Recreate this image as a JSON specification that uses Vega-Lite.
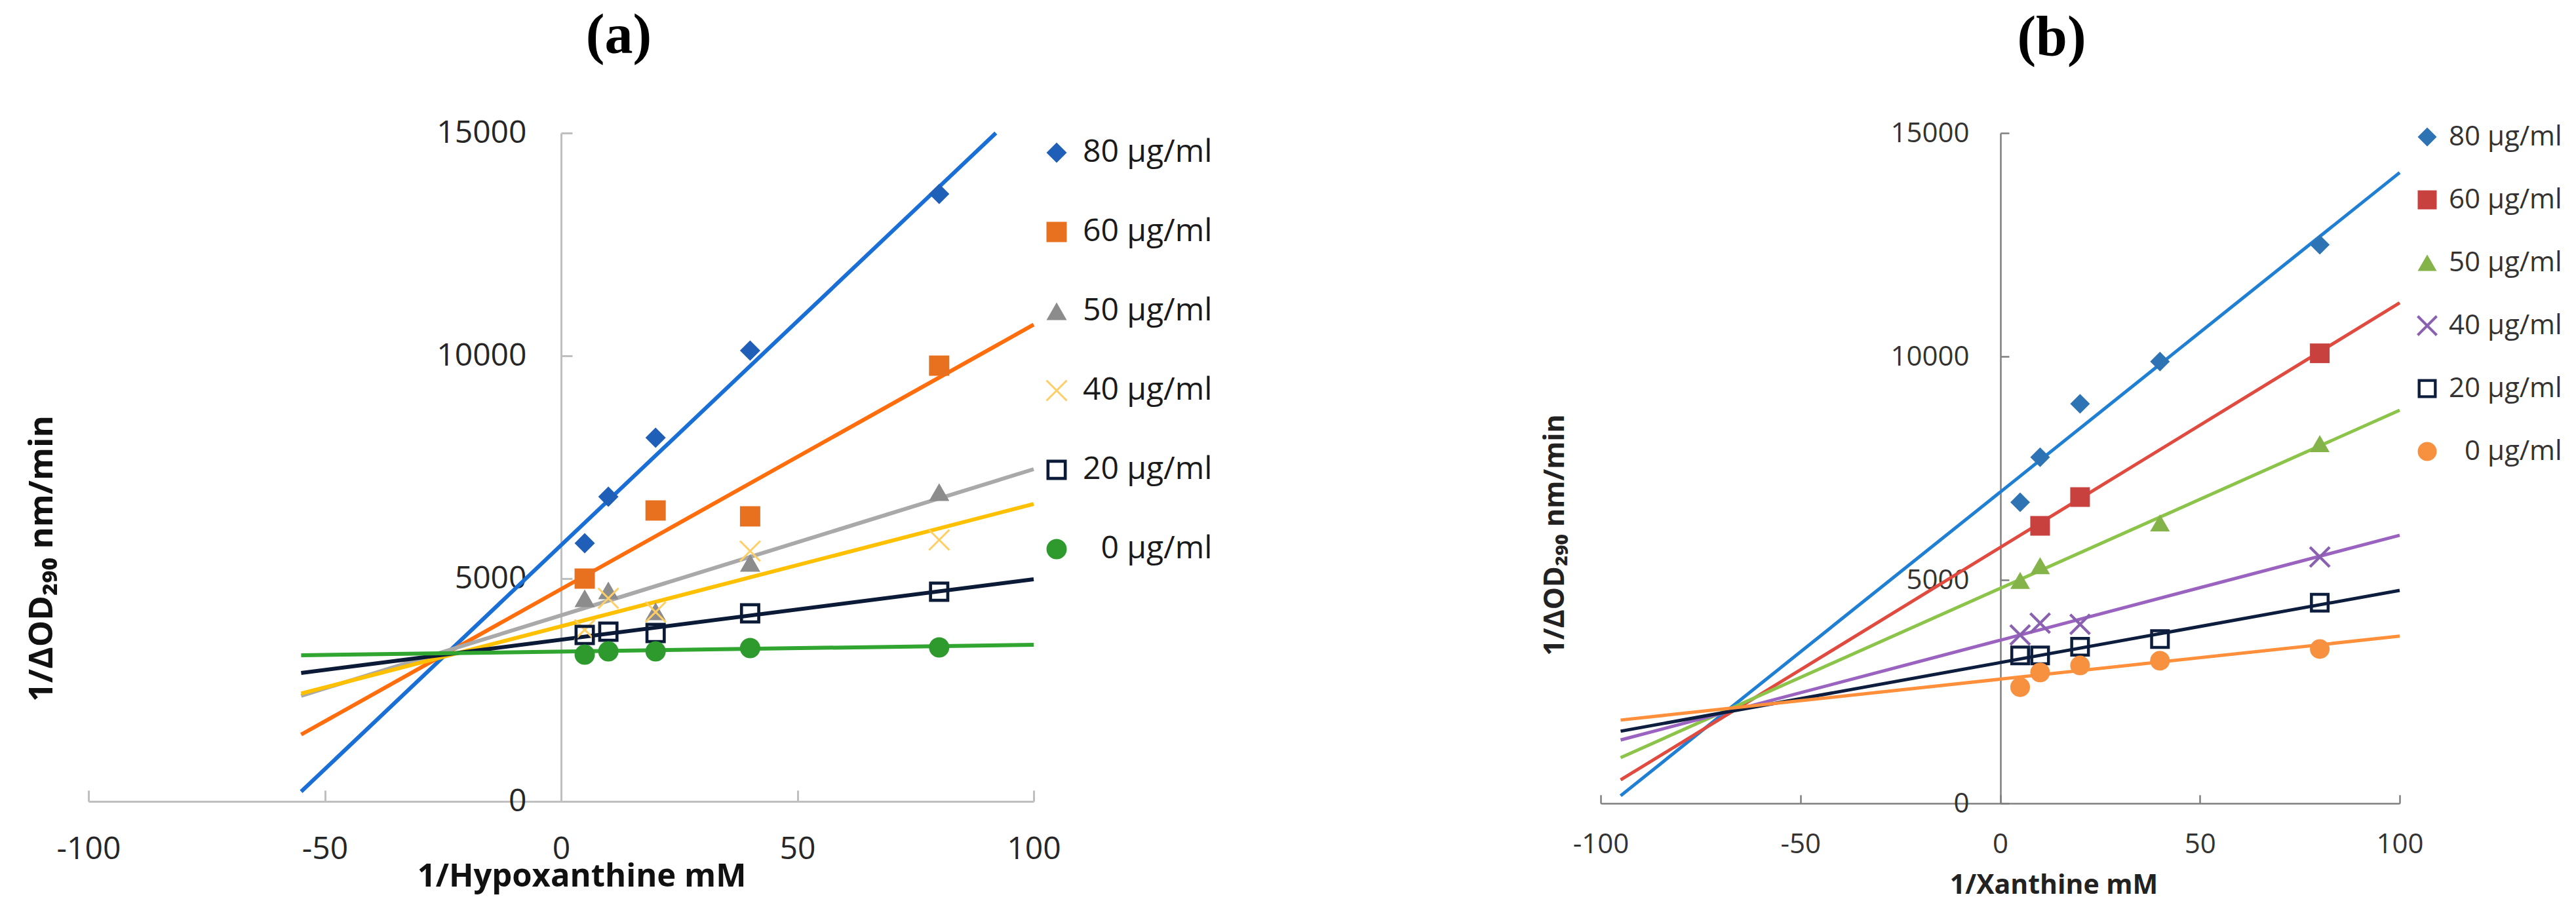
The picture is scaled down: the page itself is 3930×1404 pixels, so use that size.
{
  "$schema": "https://vega.github.io/schema/vega-lite/v6.json",
  "background": "white",
  "padding": {"left": 38, "top": 12, "right": 0, "bottom": 10},
  "config": {"view": {"stroke": null}, "font": "Open Sans"},
  "datasets": {
    "a_points": [
      {"series": "80 µg/ml", "x": 5, "y": 5794}, {"series": "80 µg/ml", "x": 10, "y": 6838}, {"series": "80 µg/ml", "x": 20, "y": 8162}, {"series": "80 µg/ml", "x": 40, "y": 10118}, {"series": "80 µg/ml", "x": 80, "y": 13632},
      {"series": "60 µg/ml", "x": 5, "y": 5000}, {"series": "60 µg/ml", "x": 20, "y": 6529}, {"series": "60 µg/ml", "x": 40, "y": 6397}, {"series": "60 µg/ml", "x": 80, "y": 9779},
      {"series": "50 µg/ml", "x": 5, "y": 4559}, {"series": "50 µg/ml", "x": 10, "y": 4735}, {"series": "50 µg/ml", "x": 20, "y": 4265}, {"series": "50 µg/ml", "x": 40, "y": 5353}, {"series": "50 µg/ml", "x": 80, "y": 6941},
      {"series": "40 µg/ml", "x": 5, "y": 3850}, {"series": "40 µg/ml", "x": 10, "y": 4559}, {"series": "40 µg/ml", "x": 20, "y": 4250}, {"series": "40 µg/ml", "x": 40, "y": 5618}, {"series": "40 µg/ml", "x": 80, "y": 5868},
      {"series": "20 µg/ml", "x": 5, "y": 3735}, {"series": "20 µg/ml", "x": 10, "y": 3809}, {"series": "20 µg/ml", "x": 20, "y": 3779}, {"series": "20 µg/ml", "x": 40, "y": 4221}, {"series": "20 µg/ml", "x": 80, "y": 4706},
      {"series": "\u200b\u20070 µg/ml", "x": 5, "y": 3294}, {"series": "\u200b\u20070 µg/ml", "x": 10, "y": 3368}, {"series": "\u200b\u20070 µg/ml", "x": 20, "y": 3368}, {"series": "\u200b\u20070 µg/ml", "x": 40, "y": 3441}, {"series": "\u200b\u20070 µg/ml", "x": 80, "y": 3456}
    ],
    "a_lines": [
      {"fit": "80", "x": -55, "y": 220}, {"fit": "80", "x": 92, "y": 15000},
      {"fit": "60", "x": -55, "y": 1500}, {"fit": "60", "x": 100, "y": 10700},
      {"fit": "50", "x": -55, "y": 2370}, {"fit": "50", "x": 100, "y": 7456},
      {"fit": "40", "x": -55, "y": 2420}, {"fit": "40", "x": 100, "y": 6676},
      {"fit": "20", "x": -55, "y": 2882}, {"fit": "20", "x": 100, "y": 4985},
      {"fit": "0", "x": -55, "y": 3279}, {"fit": "0", "x": 100, "y": 3515}
    ],
    "b_points": [
      {"series": "80 µg/ml", "x": 5, "y": 6736}, {"series": "80 µg/ml", "x": 10, "y": 7747}, {"series": "80 µg/ml", "x": 20, "y": 8942}, {"series": "80 µg/ml", "x": 40, "y": 9887}, {"series": "80 µg/ml", "x": 80, "y": 12500},
      {"series": "60 µg/ml", "x": 10, "y": 6210}, {"series": "60 µg/ml", "x": 20, "y": 6854}, {"series": "60 µg/ml", "x": 80, "y": 10071},
      {"series": "50 µg/ml", "x": 5, "y": 4989}, {"series": "50 µg/ml", "x": 10, "y": 5318}, {"series": "50 µg/ml", "x": 40, "y": 6276}, {"series": "50 µg/ml", "x": 80, "y": 8049},
      {"series": "40 µg/ml", "x": 5, "y": 3768}, {"series": "40 µg/ml", "x": 10, "y": 4031}, {"series": "40 µg/ml", "x": 20, "y": 4005}, {"series": "40 µg/ml", "x": 80, "y": 5515},
      {"series": "20 µg/ml", "x": 5, "y": 3309}, {"series": "20 µg/ml", "x": 10, "y": 3309}, {"series": "20 µg/ml", "x": 20, "y": 3506}, {"series": "20 µg/ml", "x": 40, "y": 3676}, {"series": "20 µg/ml", "x": 80, "y": 4490},
      {"series": "\u200b\u20070 µg/ml", "x": 5, "y": 2600}, {"series": "\u200b\u20070 µg/ml", "x": 10, "y": 2928}, {"series": "\u200b\u20070 µg/ml", "x": 20, "y": 3086}, {"series": "\u200b\u20070 µg/ml", "x": 40, "y": 3191}, {"series": "\u200b\u20070 µg/ml", "x": 80, "y": 3453}
    ],
    "b_lines": [
      {"fit": "80", "x": -95, "y": 171}, {"fit": "80", "x": 100, "y": 14115},
      {"fit": "60", "x": -95, "y": 525}, {"fit": "60", "x": 100, "y": 11200},
      {"fit": "50", "x": -95, "y": 1024}, {"fit": "50", "x": 100, "y": 8797},
      {"fit": "40", "x": -95, "y": 1418}, {"fit": "40", "x": 100, "y": 6000},
      {"fit": "20", "x": -95, "y": 1615}, {"fit": "20", "x": 100, "y": 4766},
      {"fit": "0", "x": -95, "y": 1864}, {"fit": "0", "x": 100, "y": 3742}
    ]
  },
  "spacing": 501,
  "resolve": {
    "scale": {"x": "independent", "y": "independent", "color": "independent", "shape": "independent", "stroke": "independent"},
    "legend": {"color": "independent", "shape": "independent"},
    "axis": {"x": "independent", "y": "independent"}
  },
  "hconcat": [
    {
      "width": 1442,
      "height": 1020,
      "title": {"text": "(a)", "font": "Liberation Serif", "fontSize": 86, "fontWeight": "bold", "color": "black", "frame": "bounds", "anchor": "middle", "offset": 80},
      "layer": [
        {
          "data": {"name": "a_lines"},
          "mark": {"type": "line", "strokeWidth": 6},
          "encoding": {
            "x": {
              "field": "x", "type": "quantitative",
              "scale": {"domain": [-100, 100], "nice": false, "zero": false},
              "axis": {
                "values": [-100, -50, 0, 50, 100], "labelExpr": "'' + datum.value", "grid": false,
                "title": "1/Hypoxanthine mM", "titleFont": "Open Sans", "titleFontSize": 49, "titleFontWeight": "bold", "titleColor": "#111111",
                "titleX": 752, "titleY": 114, "titleBaseline": "middle", "titleAlign": "center",
                "labelFontSize": 48, "labelColor": "#262626", "labelPadding": 66, "labelFlush": false,
                "tickSize": -17, "tickWidth": 3, "tickColor": "#bfbfbf", "domainColor": "#bfbfbf", "domainWidth": 3
              }
            },
            "y": {
              "field": "y", "type": "quantitative",
              "scale": {"domain": [0, 15000], "nice": false},
              "axis": {
                "values": [0, 5000, 10000, 15000], "labelExpr": "'' + datum.value", "grid": false, "offset": -721,
                "title": "1/ΔOD₂₉₀ nm/min", "titleFont": "Open Sans", "titleFontSize": 51, "titleFontWeight": "bold", "titleColor": "#111111",
                "titleX": -792, "titleY": 649, "titleAngle": 270, "titleBaseline": "middle", "titleAlign": "center",
                "labelFontSize": 48, "labelColor": "#262626", "labelPadding": 70, "labelFlush": false,
                "tickSize": -17, "tickWidth": 3, "tickColor": "#bfbfbf", "domainColor": "#bfbfbf", "domainWidth": 3
              }
            },
            "stroke": {
              "field": "fit", "type": "nominal", "legend": null,
              "scale": {
                "domain": ["80", "60", "50", "40", "20", "0"],
                "range": ["#1a6fd6", "#ff6d0d", "#a9a9a9", "#ffc000", "#0b1a36", "#30a530"]
              }
            },
            "detail": {"field": "fit"}
          }
        },
        {
          "data": {"name": "a_points"},
          "mark": {"type": "point", "filled": true, "size": 960, "opacity": 1, "strokeWidth": 0},
          "encoding": {
            "x": {"field": "x", "type": "quantitative"},
            "y": {"field": "y", "type": "quantitative"},
            "color": {
              "field": "series", "type": "nominal",
              "scale": {
                "domain": ["80 µg/ml", "60 µg/ml", "50 µg/ml", "40 µg/ml", "20 µg/ml", "\u200b\u20070 µg/ml"],
                "range": ["#1f5fb8", "#e8711f", "#8c8c8c", "#ffcf66", "#0b1a36", "#2e9a2e"]
              },
              "legend": {"title": null, "orient": "none", "legendX": 1453, "legendY": 6, "padding": 0, "labelFont": "Open Sans", "labelFontSize": 48, "labelColor": "#1a1a1a", "labelOffset": 16, "labelLimit": 0, "symbolSize": 960, "symbolStrokeWidth": 0, "rowPadding": 73}
            },
            "shape": {
              "field": "series", "type": "nominal",
              "scale": {
                "domain": ["80 µg/ml", "60 µg/ml", "50 µg/ml", "40 µg/ml", "20 µg/ml", "\u200b\u20070 µg/ml"],
                "range": ["diamond", "square", "triangle-up", "M-0.93,-1.07L1.07,0.93L0.93,1.07L-1.07,-0.93Z M-0.93,1.07L-1.07,0.93L0.93,-1.07L1.07,-0.93Z", "M-1,-1L1,-1L1,1L-1,1Z M-0.7,-0.7L-0.7,0.7L0.7,0.7L0.7,-0.7Z", "circle"]
              },
              "legend": {"title": null, "orient": "none", "legendX": 1453, "legendY": 6, "padding": 0, "labelFont": "Open Sans", "labelFontSize": 48, "labelColor": "#1a1a1a", "labelOffset": 16, "labelLimit": 0, "symbolSize": 960, "symbolStrokeWidth": 0, "rowPadding": 73}
            }
          }
        }
      ]
    },
    {
      "width": 1219,
      "height": 1023,
      "title": {"text": "(b)", "font": "Liberation Serif", "fontSize": 86, "fontWeight": "bold", "color": "black", "frame": "bounds", "anchor": "middle", "offset": 80},
      "layer": [
        {
          "data": {"name": "b_lines"},
          "mark": {"type": "line", "strokeWidth": 5},
          "encoding": {
            "x": {
              "field": "x", "type": "quantitative",
              "scale": {"domain": [-100, 100], "nice": false, "zero": false},
              "axis": {
                "values": [-100, -50, 0, 50, 100], "labelExpr": "'' + datum.value", "grid": false,
                "title": "1/Xanthine mM", "titleFont": "Open Sans", "titleFontSize": 41, "titleFontWeight": "bold", "titleColor": "#222222",
                "titleX": 691, "titleY": 125, "titleBaseline": "middle", "titleAlign": "center",
                "labelFontSize": 42, "labelColor": "#333333", "labelPadding": 55, "labelFlush": false,
                "tickSize": -13, "tickWidth": 2.5, "tickColor": "#7f7f7f", "domainColor": "#7f7f7f", "domainWidth": 2.5
              }
            },
            "y": {
              "field": "y", "type": "quantitative",
              "scale": {"domain": [0, 15000], "nice": false},
              "axis": {
                "values": [0, 5000, 10000, 15000], "labelExpr": "'' + datum.value", "grid": false, "offset": -610,
                "title": "1/ΔOD₂₉₀ nm/min", "titleFont": "Open Sans", "titleFontSize": 43, "titleFontWeight": "bold", "titleColor": "#222222",
                "titleX": -680, "titleY": 613, "titleAngle": 270, "titleBaseline": "middle", "titleAlign": "center",
                "labelFontSize": 42, "labelColor": "#333333", "labelPadding": 61, "labelFlush": false,
                "tickSize": -13, "tickWidth": 2.5, "tickColor": "#7f7f7f", "domainColor": "#7f7f7f", "domainWidth": 2.5
              }
            },
            "stroke": {
              "field": "fit", "type": "nominal", "legend": null,
              "scale": {
                "domain": ["80", "60", "50", "40", "20", "0"],
                "range": ["#1f7fd4", "#e04a3f", "#8cc44a", "#9a63bf", "#0d1d3d", "#ff8f3a"]
              }
            },
            "detail": {"field": "fit"}
          }
        },
        {
          "data": {"name": "b_points"},
          "mark": {"type": "point", "filled": true, "size": 900, "opacity": 1, "strokeWidth": 0},
          "encoding": {
            "x": {"field": "x", "type": "quantitative"},
            "y": {"field": "y", "type": "quantitative"},
            "color": {
              "field": "series", "type": "nominal",
              "scale": {
                "domain": ["80 µg/ml", "60 µg/ml", "50 µg/ml", "40 µg/ml", "20 µg/ml", "\u200b\u20070 µg/ml"],
                "range": ["#2e74b5", "#c9413e", "#84b449", "#8a60b0", "#0d1d3d", "#f7903f"]
              },
              "legend": {"title": null, "orient": "none", "legendX": 1240, "legendY": -15, "padding": 0, "labelFont": "Open Sans", "labelFontSize": 42, "labelColor": "#333333", "labelOffset": 12, "labelLimit": 0, "symbolSize": 840, "symbolStrokeWidth": 0, "rowPadding": 54}
            },
            "shape": {
              "field": "series", "type": "nominal",
              "scale": {
                "domain": ["80 µg/ml", "60 µg/ml", "50 µg/ml", "40 µg/ml", "20 µg/ml", "\u200b\u20070 µg/ml"],
                "range": ["diamond", "square", "triangle-up", "M-0.9,-1.1L1.1,0.9L0.9,1.1L-1.1,-0.9Z M-0.9,1.1L-1.1,0.9L0.9,-1.1L1.1,-0.9Z", "M-1,-1L1,-1L1,1L-1,1Z M-0.7,-0.7L-0.7,0.7L0.7,0.7L0.7,-0.7Z", "circle"]
              },
              "legend": {"title": null, "orient": "none", "legendX": 1240, "legendY": -15, "padding": 0, "labelFont": "Open Sans", "labelFontSize": 42, "labelColor": "#333333", "labelOffset": 12, "labelLimit": 0, "symbolSize": 840, "symbolStrokeWidth": 0, "rowPadding": 54}
            }
          }
        }
      ]
    }
  ]
}
